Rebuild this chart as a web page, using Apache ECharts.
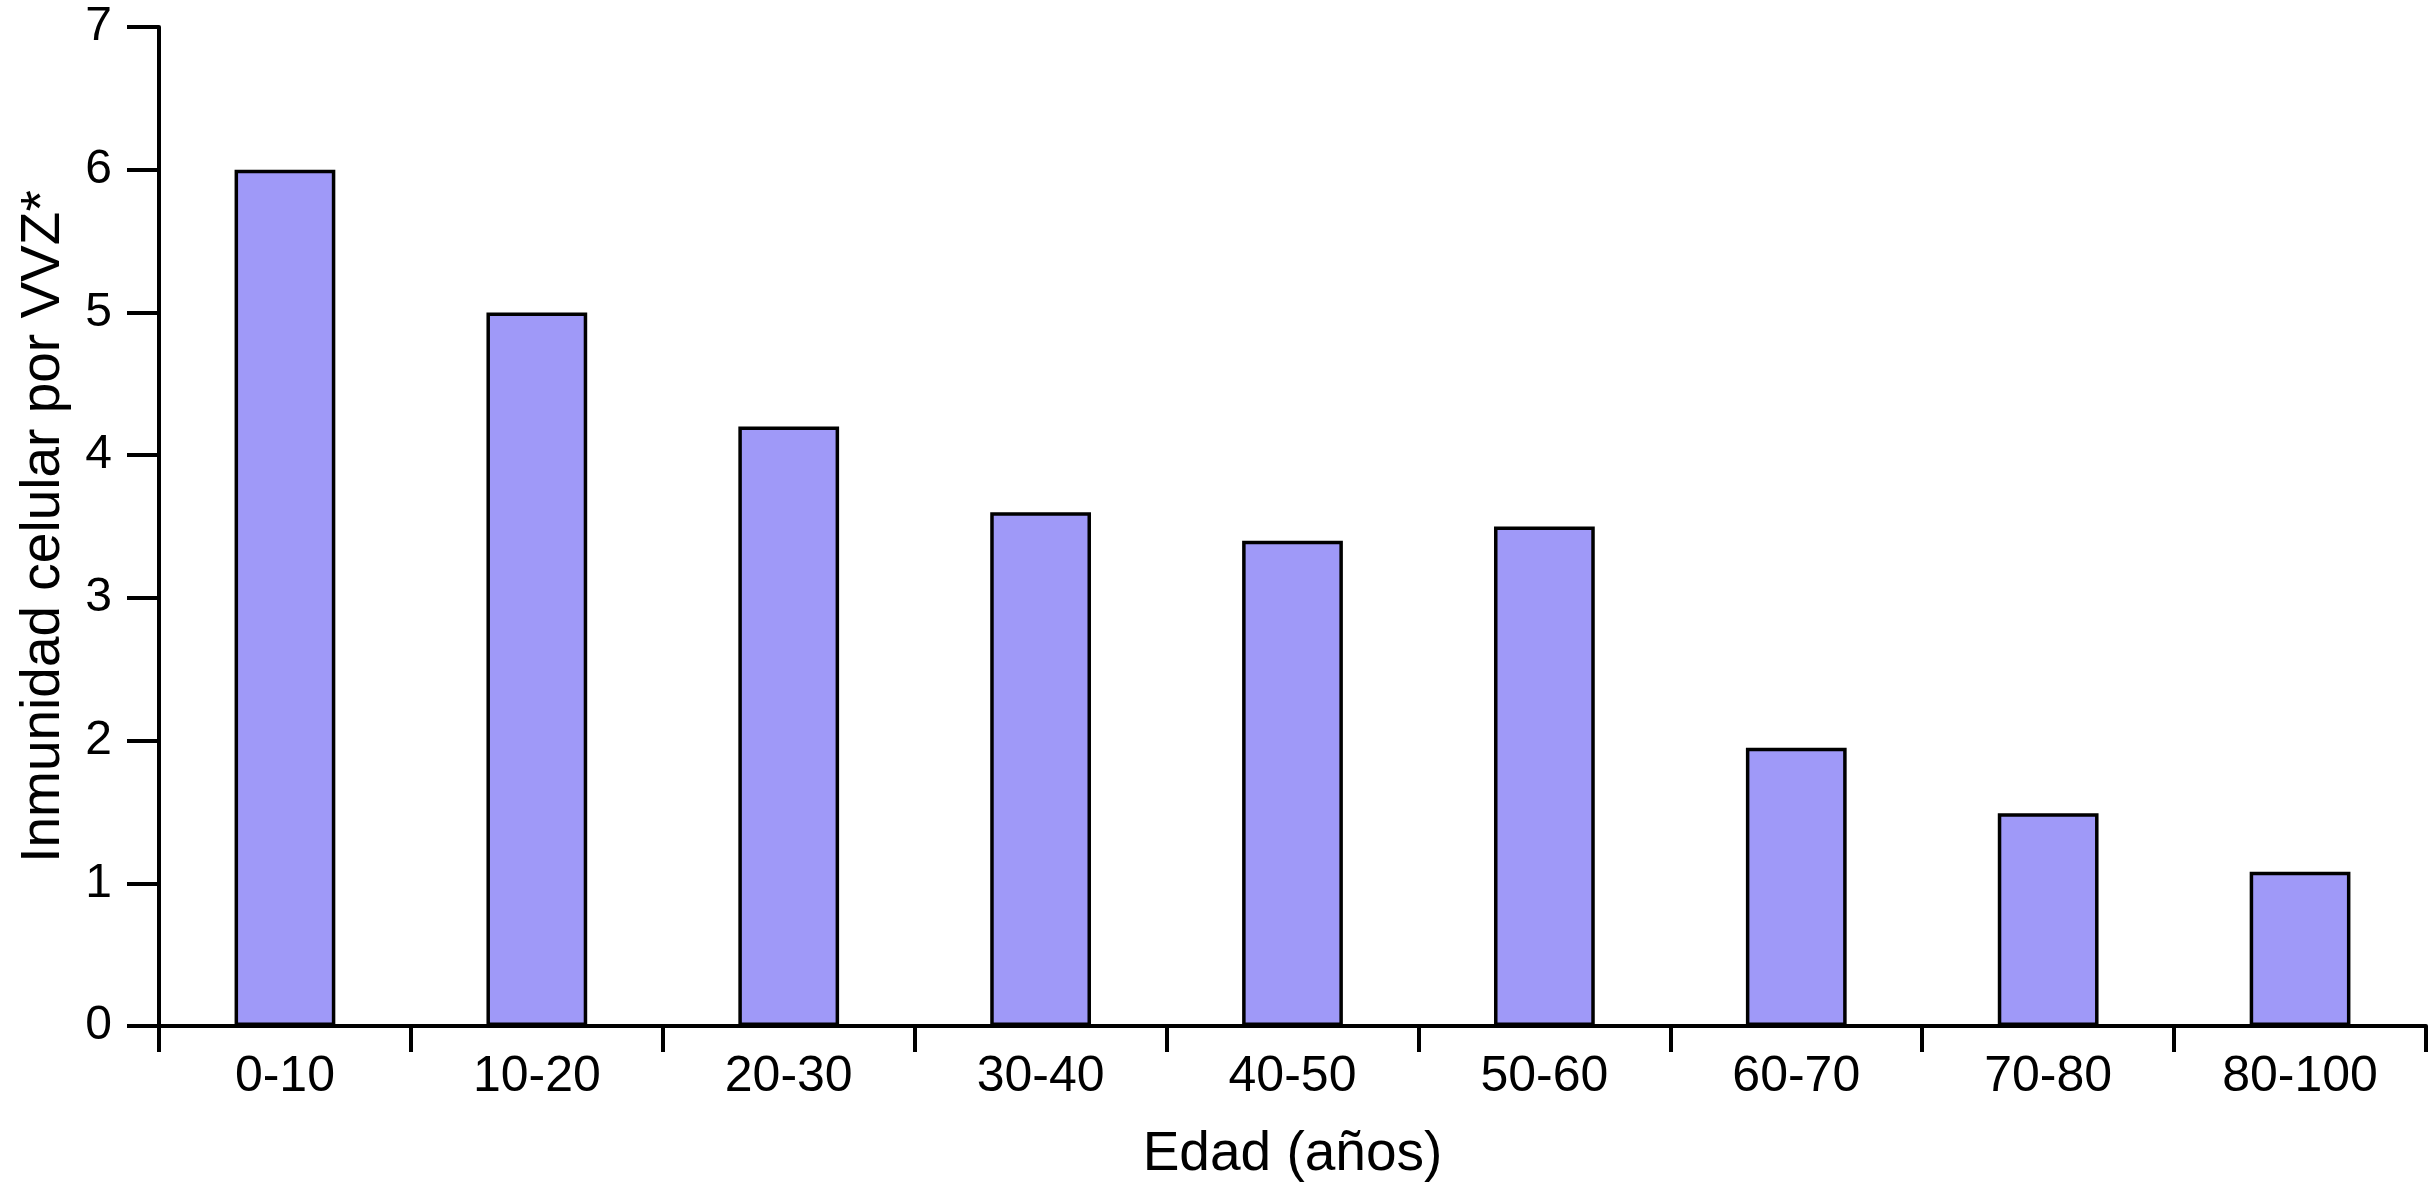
<!DOCTYPE html>
<html>
<head>
<meta charset="utf-8">
<script src="https://cdn.jsdelivr.net/npm/echarts@6/dist/echarts.min.js"></script>
<style>
  html, body { margin: 0; padding: 0; background: #fff; }
  #chart { width: 2429px; height: 1182px; }
</style>
</head>
<body>
<div id="chart"></div>
<script>
// age groups and VZV cellular immunity
const ageGroups = ['0-10', '10-20', '20-30', '30-40', '40-50', '50-60', '60-70', '70-80', '80-100'];
const immunity = [6, 5, 4.2, 3.6, 3.4, 3.5, 1.95, 1.49, 1.08];
const yTicks = { min: 0, max: 7, interval: 1 };

const font = 'Liberation Sans, Arial, Helvetica, sans-serif';
const chart = echarts.init(document.getElementById('chart'));

const option = {
  animation: false,
  grid: {
    left: 159,
    right: 3,
    top: 27,
    bottom: 156,
    containLabel: false,
    outerBoundsMode: 'none',
  },
  xAxis: {
    type: 'category',
    data: ageGroups,
    name: 'Edad (años)',
    nameLocation: 'middle',
    nameGap: 101,
    nameTextStyle: { fontFamily: font, fontSize: 55, color: '#000' },
    axisLine: { lineStyle: { color: '#000', width: 4 } },
    axisTick: { show: true, length: 26, lineStyle: { color: '#000', width: 4 } },
    axisLabel: { fontFamily: font, fontSize: 50, color: '#000', margin: 26 },
  },
  yAxis: {
    type: 'value',
    min: yTicks.min,
    max: yTicks.max,
    interval: yTicks.interval,
    name: 'Inmunidad celular por VVZ*',
    nameLocation: 'middle',
    nameGap: 88,
    nameTextStyle: { fontFamily: font, fontSize: 55, color: '#000' },
    splitLine: { show: false },
    axisLine: { show: true, lineStyle: { color: '#000', width: 4 } },
    axisTick: { show: true, length: 32, lineStyle: { color: '#000', width: 4 } },
    axisLabel: { fontFamily: font, fontSize: 48, color: '#000', margin: 47 },
  },
  series: [
    {
      type: 'bar',
      data: immunity,
      barWidth: '40%',
      itemStyle: {
        color: '#9f99f8',
        borderColor: '#000',
        borderWidth: 3.5,
      },
    },
  ],
};

chart.setOption(option);
</script>
</body>
</html>
